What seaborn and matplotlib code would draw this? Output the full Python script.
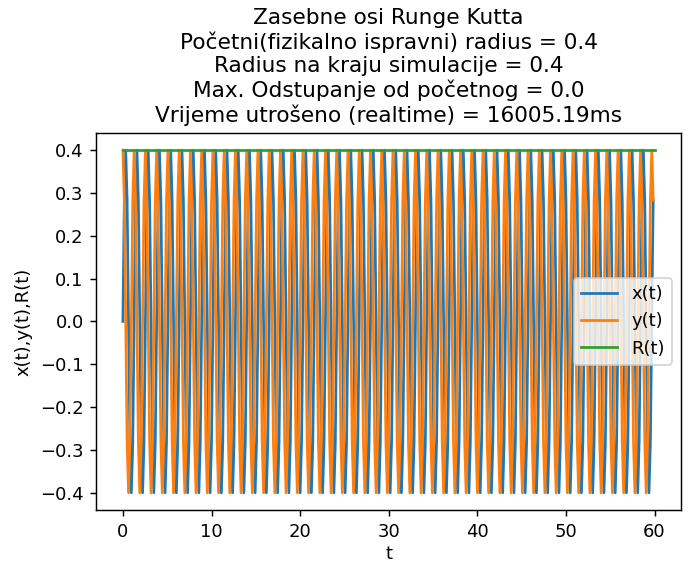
import numpy as np
import pandas as pd
import matplotlib
matplotlib.use('Agg')
import matplotlib.pyplot as plt
import seaborn as sns

# values
t_end = 60.0
period = 1.27          # one full turn, read from spacing of the peaks
radius = 0.4
# one turn of x and y, sampled every 1/8 of a period
x_cycle = [0.0, 0.283, 0.4, 0.283, 0.0, -0.283, -0.4, -0.283]
y_cycle = [0.4, 0.283, 0.0, -0.283, -0.4, -0.283, 0.0, 0.283]
r_time = [0.0, 60.0]
r_vals = [0.4, 0.4]

title_lines = [
    "Zasebne osi Runge Kutta",
    "Početni(fizikalno ispravni) radius = 0.4",
    "Radius na kraju simulacije = 0.4",
    "Max. Odstupanje od početnog = 0.0",
    "Vrijeme utrošeno (realtime) = 16005.19ms",
]

n_steps = int(t_end / (period / len(x_cycle))) + 1
t = np.arange(n_steps) * period / len(x_cycle)
xs = np.resize(x_cycle, n_steps)
ys = np.resize(y_cycle, n_steps)

df = pd.DataFrame({'t': t, 'x': xs, 'y': ys})

# plain matplotlib look, rendered at 130 dpi
plt.rcParams['font.family'] = ['DejaVu Sans']

dpi = 130
fig = plt.figure(figsize=(688 / dpi, 566 / dpi), dpi=dpi)
ax = fig.add_axes([0.140, 0.099, 0.850, 0.666])

pal = sns.color_palette('tab10')
sns.lineplot(data=df, x='t', y='x', ax=ax, color=pal[0], label='x(t)')
sns.lineplot(data=df, x='t', y='y', ax=ax, color=pal[1], label='y(t)')
sns.lineplot(x=r_time, y=r_vals, ax=ax, color=pal[2], label='R(t)')

ax.set_xlabel('t', labelpad=2.5)
ax.set_ylabel('x(t),y(t),R(t)')
ax.set_title('\n'.join(title_lines))
ax.legend(loc='center right')

fig.savefig('out.png', dpi=dpi)
